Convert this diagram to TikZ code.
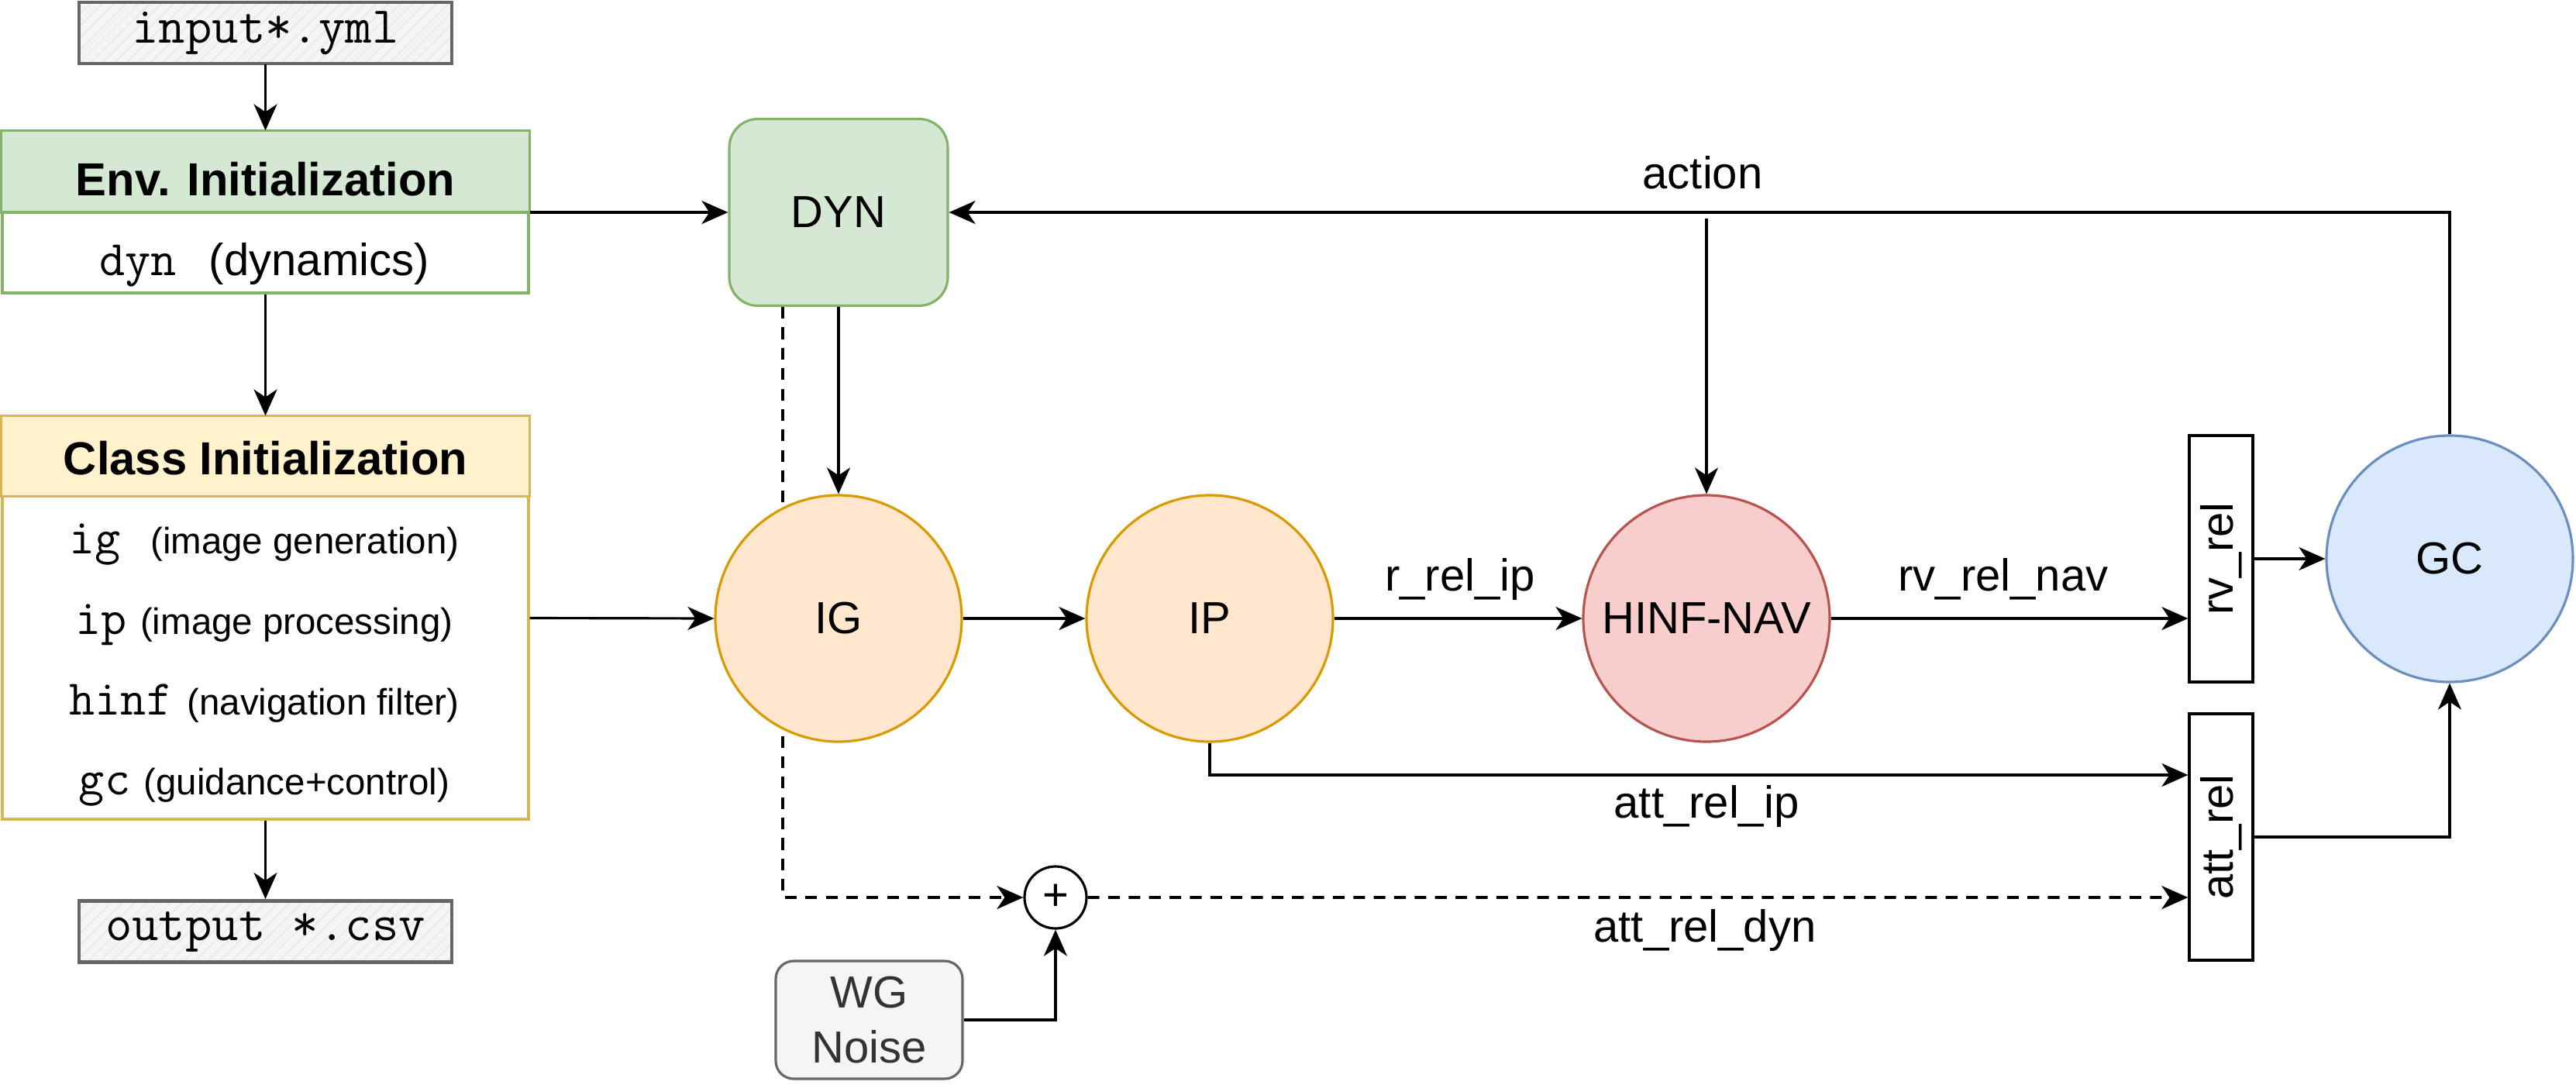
\documentclass[tikz,border=0pt]{standalone}
\usepackage{fontspec}
\setmainfont{Liberation Sans}
\usepackage{graphicx}
\usetikzlibrary{arrows.meta, patterns.meta, backgrounds}

\definecolor{greenline}{HTML}{82B366}
\definecolor{greenfill}{HTML}{D5E8D4}
\definecolor{yellowline}{HTML}{D6B656}
\definecolor{yellowfill}{HTML}{FFF2CC}
\definecolor{orangeline}{HTML}{D79B00}
\definecolor{orangefill}{HTML}{FFE6CC}
\definecolor{redline}{HTML}{B85450}
\definecolor{redfill}{HTML}{F8CECC}
\definecolor{blueline}{HTML}{6C8EBF}
\definecolor{bluefill}{HTML}{DAE8FC}
\definecolor{grayline}{HTML}{666666}
\definecolor{grayfill}{HTML}{F5F5F5}
\definecolor{graytext}{HTML}{333333}

\newcommand{\codetxt}[1]{{\ttfamily\fontsize{18.3}{21}\selectfont #1}}

\begin{document}
\begin{tikzpicture}[
  line width=0.9pt,
  >={Stealth[length=0.34cm, width=0.3cm, inset=0.1cm]},
  txt/.style={font=\fontsize{16.5}{20}\selectfont},
  headtxt/.style={font=\fontsize{17}{20}\selectfont\bfseries},
  itemtxt/.style={font=\fontsize{13.5}{16}\selectfont},
  filebox/.style={draw=grayline, line width=1.4pt, preaction={fill=grayfill},
    pattern={Lines[angle=45, distance=3.1pt, line width=0.4pt]}, pattern color=black!9,
    minimum width=4.81cm, minimum height=0.79cm, inner sep=0pt,
    font=\ttfamily\fontsize{19}{22}\selectfont},
  bigbox/.style={draw, fill=white, minimum width=6.79cm, inner sep=0pt},
  block/.style={circle, draw, minimum size=3.18cm, inner sep=0pt, txt},
  relbox/.style={draw, minimum width=0.82cm, minimum height=3.18cm, inner sep=0pt, txt},
  arr/.style={->},
  dasharr/.style={->, line width=1.1pt, dash pattern=on 4.3pt off 3.2pt}
]
\useasboundingbox (0,0) rectangle (33.24,-14);

% 文件框
\node[filebox] (inp) at (3.425,-0.425) {input*.yml};
\node[filebox] (outp) at (3.425,-12.02) {output *.csv};

% 环境初始化
\node[bigbox, draw=greenline, minimum height=2.08cm] (env) at (3.425,-2.74) {};
\draw[draw=greenline, fill=greenfill] (env.north west) rectangle (env.east);
\node[headtxt, anchor=base] (envhead) at (3.425,-2.52) {Env. Initialization};
\node[txt, anchor=base] (envdyn) at (3.41,-3.55) {\codetxt{dyn}\hspace{12pt}(dynamics)};

% 类初始化
\node[bigbox, draw=yellowline, minimum height=5.19cm] (cls) at (3.425,-7.975) {};
\draw[draw=yellowline, fill=yellowfill] (cls.north west) rectangle ([yshift=-1.04cm]cls.north east);
\node[headtxt, anchor=base] (clshead) at (3.425,-6.12) {Class Initialization};
\node[itemtxt, anchor=base] (clsig) at (3.41,-7.14) {\codetxt{ig}\hspace{11pt}(image generation)};
\node[itemtxt, anchor=base] (clsip) at (3.41,-8.18) {\codetxt{ip}\hspace{5pt}(image processing)};
\node[itemtxt, anchor=base] (clshinf) at (3.41,-9.22) {\codetxt{hinf}\hspace{5.5pt}(navigation filter)};
\node[itemtxt, anchor=base] (clsgc) at (3.41,-10.25) {\codetxt{gc}\hspace{5pt}(guidance+control)};

% 主要模块
\node[draw=greenline, fill=greenfill, rounded corners=0.37cm, minimum width=2.82cm,
  minimum height=2.41cm, txt] (dyn) at (10.82,-2.74) {DYN};
\node[block, draw=orangeline, fill=orangefill] (ig) at (10.82,-7.98) {IG};
\node[block, draw=orangeline, fill=orangefill] (ip) at (15.61,-7.98) {IP};
\node[block, draw=redline, fill=redfill] (hinf) at (22.02,-7.98) {HINF-NAV};
\node[block, draw=blueline, fill=bluefill] (gc) at (31.61,-7.21) {GC};

% 输出量
\node[relbox] (rvrel) at (28.66,-7.21) {\rotatebox{90}{rv\_rel}};
\node[relbox] (attrel) at (28.66,-10.80) {\rotatebox{90}{att\_rel}};

% 噪声与求和
\node[circle, draw, minimum size=0.8cm, inner sep=0pt, txt] (plus) at (13.62,-11.58) {+};
\node[draw=grayline, fill=grayfill, text=graytext, rounded corners=0.23cm, minimum width=2.41cm,
  minimum height=1.52cm, align=center, txt] (wg) at (11.215,-13.16) {WG\\Noise};

% 标签
\node[txt, anchor=base] (lact) at (21.97,-2.43) {action};
\node[txt, anchor=base] (lrrel) at (18.84,-7.62) {r\_rel\_ip};
\node[txt, anchor=base] (lrvnav) at (25.85,-7.62) {rv\_rel\_nav};
\node[txt, anchor=base] (lattip) at (22.02,-10.55) {att\_rel\_ip};
\node[txt, anchor=base] (lattdyn) at (22.0,-12.15) {att\_rel\_dyn};

% 连线
\draw[arr] (inp) -- (env);
\draw[arr] (env) -- (cls);
\draw[arr] (cls) -- (outp);
\draw[arr] (env.east) -- (dyn.west);
\draw[arr] (cls.east) -- (ig.west);
\draw[arr] (dyn) -- (ig);
\draw[arr] (ig) -- (ip);
\draw[arr] (ip) -- (hinf);
\draw[arr] (hinf) -- (rvrel.west |- hinf);
\draw[arr] (rvrel.east) -- (gc.west);
\draw[arr] (gc.north) |- (dyn.east);
\coordinate[yshift=-0.08cm] (act) at (hinf |- dyn.east);
\draw[arr] (act) -- (hinf.north);
\draw[arr] (ip.south) |- ([yshift=0.8cm]attrel.west);
\draw[arr] (attrel.east) -| (gc.south);
\draw[arr] (wg.east) -| (plus.south);
\draw[dasharr] (plus.east) -- ([yshift=-0.78cm]attrel.west);
\begin{scope}[on background layer]
\draw[dasharr] ([xshift=0.71cm]dyn.south west) |- (plus.west);
\end{scope}

\end{tikzpicture}
\end{document}
